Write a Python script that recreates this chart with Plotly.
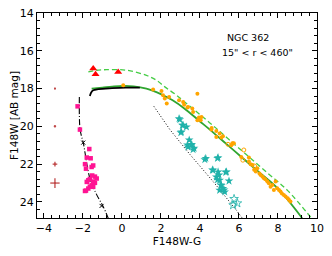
import plotly.graph_objects as go

# ---- data ----
rt_x = [-1.47, -1.35, -0.19]
rt_y = [16.94, 17.24, 17.12]

err_x = [-3.43, -3.43, -3.43, -3.43]
err_y = [18.0, 20.0, 22.0, 23.0]
err_ex = [0.04, 0.06, 0.12, 0.24]
err_ey = [0.04, 0.06, 0.13, 0.26]

pk_x = [-2.27, -2.15, -1.67, -1.80, -1.60, -1.89, -1.47, -1.55, -1.84, -1.38, -1.29, -1.64,
        -1.47, -1.80, -1.72, -1.38, -1.55, -1.47, -1.64, -1.72, -1.89, -1.84, -1.52]
pk_y = [18.94, 20.17, 21.20, 21.65, 21.69, 22.00, 22.07, 22.15, 22.24, 22.66, 22.76, 22.78,
        22.92, 22.94, 22.85, 22.99, 23.12, 23.20, 23.19, 23.29, 23.42, 23.40, 22.60]

or_x = [0.07, 1.60, 2.03, 2.11, 2.20, 2.42, 2.30, 2.93, 3.14, 3.19, 3.39, 3.36, 3.61, 3.65, 3.87,
        3.95, 4.04, 3.87, 4.08, 4.59, 4.60, 4.84, 5.01, 5.18, 4.84, 5.10, 5.61, 5.70, 5.66, 5.74,
        6.12, 6.51, 6.60, 6.70, 6.51, 6.86, 6.94, 7.11, 7.20, 7.28, 7.35, 7.53, 7.62, 7.71, 7.79,
        7.88, 7.96, 8.05, 8.13, 8.20, 8.30, 8.39, 8.50, 8.56, 8.64, 7.45, 7.05, 6.78]
or_y = [17.83, 18.05, 18.13, 18.35, 18.53, 18.44, 18.79, 18.62, 18.71, 18.85, 18.97, 19.00, 19.06,
        19.24, 19.67, 19.53, 19.67, 18.27, 19.50, 20.17, 20.08, 20.24, 20.38, 20.52, 20.56, 20.59,
        21.00, 20.91, 20.89, 20.90, 21.62, 21.86, 22.00, 22.05, 21.65, 22.39, 22.22, 22.57, 22.66,
        22.75, 22.80, 23.01, 23.19, 23.10, 23.37, 22.92, 23.28, 23.37, 23.45, 23.55, 23.63, 23.71,
        23.80, 23.89, 23.98, 22.90, 22.50, 22.30]

oro_x = [5.44, 6.20, 6.25, 6.80]
oro_y = [20.95, 21.79, 21.25, 22.10]

st_x = [2.93, 3.10, 2.97, 3.14, 3.31, 3.05, 3.02, 3.45, 3.36, 3.58, 3.56, 3.70, 3.65, 3.39, 4.25,
        4.30, 4.93, 4.90, 4.67, 4.64, 4.93, 5.36, 5.32, 4.84, 4.98, 5.01, 5.49, 4.90, 5.10, 5.07,
        5.18, 5.01, 5.27, 5.24]
st_y = [19.59, 19.94, 19.64, 19.94, 20.03, 20.30, 20.33, 20.72, 20.98, 20.95, 21.00, 21.16, 21.23,
        21.09, 21.76, 21.69, 21.65, 21.69, 22.32, 22.30, 22.41, 22.41, 22.43, 22.68, 22.57, 22.85,
        22.89, 22.83, 23.12, 23.10, 23.29, 23.38, 23.47, 23.36]
sto_x = [5.75, 5.92, 5.70]
sto_y = [23.84, 24.07, 24.17]

gs_x = [-1.55, -1.0, -0.5, 0.07, 0.6, 1.26, 1.8, 2.28, 2.6, 3.2, 3.96, 4.6, 5.4, 6.17, 7.0, 8.0, 9.24]
gs_y = [18.00, 17.95, 17.90, 17.86, 17.88, 18.00, 18.20, 18.44, 18.62, 19.05, 19.70, 20.25, 20.97,
        21.66, 22.40, 23.30, 24.86]

gd_x = [-1.72, -1.3, -0.78, 0.24, 1.26, 1.77, 2.2, 2.8, 3.5, 4.2, 4.81, 5.49, 6.5, 7.5, 8.5, 9.75]
gd_y = [17.12, 17.03, 17.00, 17.03, 17.30, 17.56, 17.91, 18.35, 18.95, 19.55, 20.08, 20.70, 21.60,
        22.50, 23.40, 24.90]

bk_x = [-1.64, -1.58, -1.47, -1.2, -0.5, 0.2, 0.92]
bk_y = [18.39, 18.22, 18.09, 18.03, 17.98, 17.95, 17.95]

bd_x = [1.64, 2.46, 3.5, 4.7, 5.87, 6.20]
bd_y = [18.94, 20.17, 21.50, 22.95, 24.44, 24.90]

dd_x = [-2.18, -2.15, -2.06, -1.98, -1.64, -1.30, -0.96, -0.70]
dd_y = [18.44, 20.10, 20.56, 20.86, 22.75, 23.60, 24.24, 24.86]
ddm_x = [-1.98, -1.04]
ddm_y = [20.86, 24.21]

xticks = [-4, -2, 0, 2, 4, 6, 8, 10]
yticks = [14, 16, 18, 20, 22, 24]

fig = go.Figure()

# lines
fig.add_trace(go.Scatter(x=gd_x, y=gd_y, mode="lines", line=dict(color="#44cc44", width=1.3, dash="5px,3px", shape="spline")))
fig.add_trace(go.Scatter(x=gs_x, y=gs_y, mode="lines", line=dict(color="#2fa52f", width=1.8, shape="spline")))
fig.add_trace(go.Scatter(x=bk_x, y=bk_y, mode="lines", line=dict(color="black", width=1.8, shape="spline")))
fig.add_trace(go.Scatter(x=bd_x, y=bd_y, mode="lines", line=dict(color="black", width=1, dash="1px,2px")))
fig.add_trace(go.Scatter(x=dd_x, y=dd_y, mode="lines", line=dict(color="black", width=1.1, dash="6px,2px,1px,2px", shape="spline")))
fig.add_trace(go.Scatter(x=ddm_x, y=ddm_y, mode="markers",
                         marker=dict(symbol="x-thin", size=4, line=dict(color="black", width=1))))

# points
fig.add_trace(go.Scatter(x=err_x, y=err_y, mode="markers",
                         marker=dict(color="#c04848", size=2),
                         error_x=dict(type="data", array=err_ex, color="#c04848", thickness=1.3, width=0),
                         error_y=dict(type="data", array=err_ey, color="#c04848", thickness=1.3, width=0)))
fig.add_trace(go.Scatter(x=pk_x, y=pk_y, mode="markers",
                         marker=dict(symbol="square", color="#ff1493", size=4.5)))
fig.add_trace(go.Scatter(x=st_x, y=st_y, mode="markers",
                         marker=dict(symbol="star", color="#20b2aa", size=6.5)))
fig.add_trace(go.Scatter(x=sto_x, y=sto_y, mode="markers",
                         marker=dict(symbol="star-open", color="#20b2aa", size=6.5, line=dict(width=0.8))))
fig.add_trace(go.Scatter(x=or_x, y=or_y, mode="markers",
                         marker=dict(symbol="circle", color="#ffa500", size=4)))
fig.add_trace(go.Scatter(x=oro_x, y=oro_y, mode="markers",
                         marker=dict(symbol="circle-open", color="#ffa500", size=4, line=dict(width=1))))
fig.add_trace(go.Scatter(x=rt_x, y=rt_y, mode="markers",
                         marker=dict(symbol="triangle-up", color="#ff0000", size=7)))

axis_common = dict(
    showgrid=False, zeroline=False, showline=True, linecolor="black", linewidth=1,
    mirror="allticks", ticks="inside", ticklen=5, tickwidth=1, tickcolor="black",
    tickfont=dict(family="DejaVu Sans", size=11, color="black"), automargin=False,
    ticklabeloverflow="allow",
    minor=dict(ticks="inside", ticklen=3, tickcolor="black", tickwidth=0.8, dtick=0.4),
)

# page body has an 8px margin, so the figure is sized to fit the 332x256 window
fig.update_layout(
    width=316, height=240,
    margin=dict(l=29, r=7, t=5, b=30),
    plot_bgcolor="white", paper_bgcolor="white",
    showlegend=False,
    font=dict(family="DejaVu Sans", size=10, color="black"),
    xaxis=dict(range=[-4.35, 10], tickvals=xticks, ticktext=[("\u2212" + str(-v)) if v < 0 else str(v) for v in xticks],
               title=dict(text="F148W-G", font=dict(size=10.5), standoff=3), **axis_common),
    yaxis=dict(range=[24.85, 14], tickvals=yticks, ticktext=[str(v) for v in yticks],
               title=dict(text="F148W [AB mag]", font=dict(size=10.5), standoff=2), **axis_common),
    annotations=[
        dict(x=6.44, y=15.29, text="NGC 362", showarrow=False, font=dict(size=9.5), xref="x", yref="y"),
        dict(x=6.93, y=16.08, text="15\" < r < 460\"", showarrow=False, font=dict(size=9.5), xref="x", yref="y"),
    ],
)

fig.write_html("out.html")
